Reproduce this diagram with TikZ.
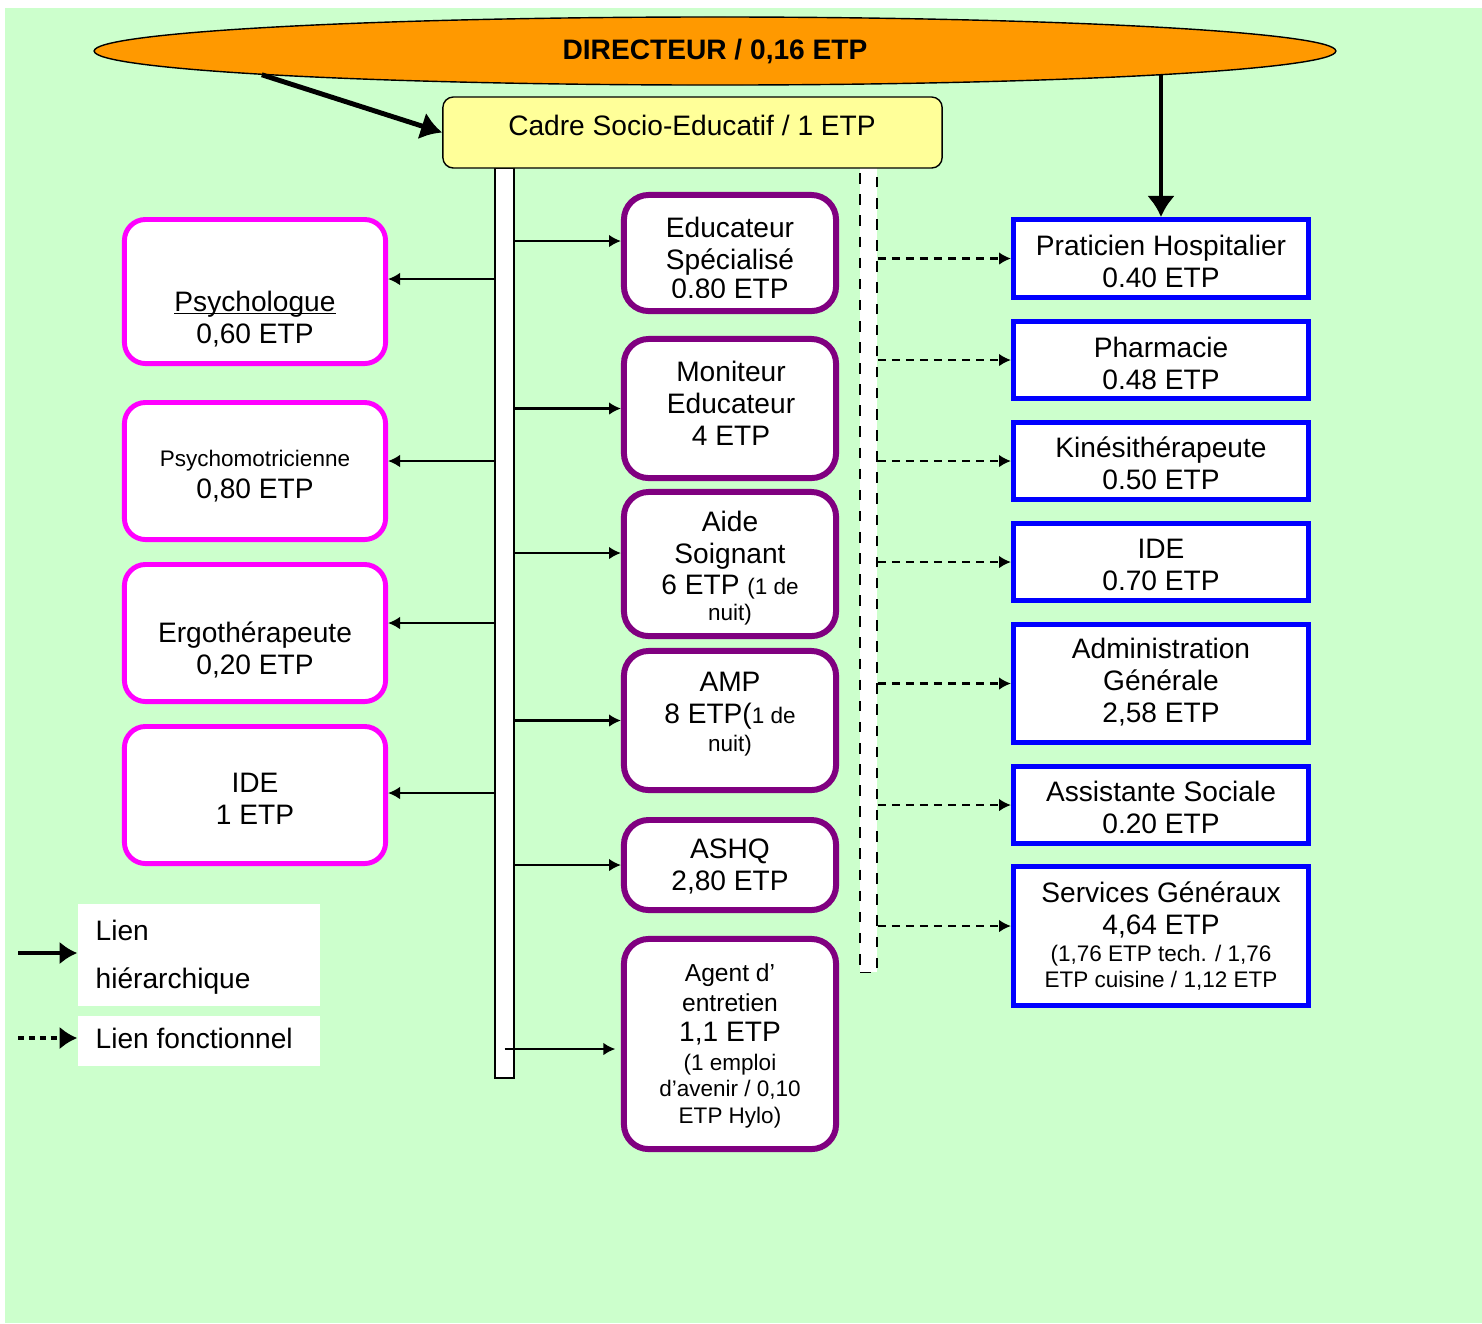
\documentclass[tikz,border=0pt]{standalone}
\usepackage{fontspec}
\setmainfont{Liberation Sans}
\usetikzlibrary{shapes.geometric,arrows.meta}

\definecolor{fondvert}{HTML}{CCFFCC}
\definecolor{orangedir}{HTML}{FF9900}
\definecolor{jaunecadre}{HTML}{FFFF99}
\definecolor{rosepsy}{HTML}{FF00FF}
\definecolor{violetedu}{HTML}{800080}
\definecolor{bleuext}{HTML}{0000FF}

\newcommand{\grand}{\fontsize{8}{9.1}\selectfont}
\newcommand{\moyen}{\fontsize{7}{8.5}\selectfont}
\newcommand{\petit}{\fontsize{6.4}{7.4}\selectfont}
\newsavebox{\soulbox}
\newcommand{\souligne}[1]{\sbox{\soulbox}{#1}\rlap{\rule[-0.8pt]{\wd\soulbox}{0.4pt}}\usebox{\soulbox}}

\begin{document}
\begin{tikzpicture}[x=0.01cm, y=-0.01cm, font=\grand,
		rosebox/.style={draw=rosepsy, line width=1.4pt, fill=white, rounded corners=6pt, minimum width=2.61cm, inner sep=0pt},
		violetbox/.style={draw=violetedu, line width=1.7pt, fill=white, rounded corners=7pt, minimum width=2.12cm, inner sep=0pt},
		bleubox/.style={draw=bleuext, line width=1.4pt, fill=white, minimum width=2.95cm, inner sep=0pt},
		txt/.style={align=center, inner sep=0pt},
		hier/.style={semithick, -{Latex[length=3.4pt, width=3.6pt]}},
		fonc/.style={semithick, dash pattern=on 2.3pt off 1.7pt, -{Latex[length=3.4pt, width=3.6pt]}},
		gros/.style={line width=1.4pt, -{Latex[length=6pt, width=8pt]}}]
		% fond
		\fill[white] (0,0) rectangle (1482,1323);
		\fill[fondvert] (5,8) rectangle (1482,1323);

		% direction
		\node[ellipse, draw, thin, fill=orangedir, minimum width=12.41cm, minimum height=0.68cm, inner sep=0pt, font=\grand\bfseries] (dir) at (715,51) {DIRECTEUR / 0,16 ETP};
		\node[draw, fill=white, semithick, minimum width=0.19cm, minimum height=9.10cm, inner sep=0pt] (hbar) at (504.5,623) {};
		\node[draw, fill=white, dashed, minimum width=0.17cm, minimum height=8.04cm, inner sep=0pt] (dbar) at (868.5,570) {};
		\node[draw, thin, fill=jaunecadre, rounded corners=3pt, minimum width=4.99cm, minimum height=0.71cm, inner sep=0pt] (cadre) at (692.5,132.5) {};
		\node[txt] (cadre-t) at (692,125) {Cadre Socio-Educatif / 1 ETP};

		% colonne gauche
		\node[rosebox, minimum height=1.44cm] (psy) at (255,291.5) {};
		\node[txt] (psy-t) at (255,319) {\souligne{Psychologue}\\0,60 ETP};
		\node[rosebox, minimum height=1.37cm] (psymot) at (255,471) {};
		\node[txt] (psymot-t) at (255,476) {{\petit Psychomotricienne}\\0,80 ETP};
		\node[rosebox, minimum height=1.37cm] (ergo) at (255,633) {};
		\node[txt] (ergo-t) at (255,650) {Ergothérapeute\\0,20 ETP};
		\node[rosebox, minimum height=1.37cm] (ideg) at (255,795) {};
		\node[txt] (ideg-t) at (255,799) {IDE\\1 ETP};

		% colonne centrale
		\node[violetbox, minimum height=1.16cm] (edu) at (730,253) {};
		\begin{scope}
			\clip (621,192) rectangle (839,297);
			\node[txt] (edu-t) at (730,258) {Educateur\\Spécialisé\\[-0.8pt]0.80 ETP};
		\end{scope}
		\node[violetbox, minimum height=1.39cm] (moni) at (730,408.5) {};
		\node[txt] (moni-t) at (731,403) {Moniteur\\Educateur\\4 ETP};
		\node[violetbox, minimum height=1.44cm] (aide) at (730,564) {};
		\node[txt] (aide-t) at (730,568) {Aide\\Soignant\\[-0.4pt]6 ETP {\petit (1 de}\\[-1.8pt]{\petit nuit)}};
		\node[violetbox, minimum height=1.39cm] (amp) at (730,720.5) {};
		\node[txt] (amp-t) at (730,714) {AMP\\8 ETP({\petit 1 de}\\[-1pt]{\petit nuit)}};
		\node[violetbox, minimum height=0.90cm] (ashq) at (730,865) {};
		\node[txt] (ashq-t) at (730,866) {ASHQ\\2,80 ETP};
		\node[violetbox, minimum height=2.10cm] (agent) at (730,1044) {};
		\node[txt] (agent-t) at (730,1046) {{\moyen Agent d’}\\[-0.6pt]{\moyen entretien}\\[-0.6pt]1,1 ETP\\[-0.9pt]{\petit (1 emploi}\\[-1.7pt]{\petit d’avenir / 0,10}\\[-1.5pt]{\petit ETP Hylo)}};

		% colonne droite
		\node[bleubox, minimum height=0.78cm] (prat) at (1161,258.5) {};
		\node[txt] (prat-t) at (1161,261) {Praticien Hospitalier\\0.40 ETP};
		\node[bleubox, minimum height=0.77cm] (phar) at (1161,360) {};
		\node[txt] (phar-t) at (1161,363) {Pharmacie\\0.48 ETP};
		\node[bleubox, minimum height=0.77cm] (kine) at (1161,461) {};
		\node[txt] (kine-t) at (1161,463) {Kinésithérapeute\\0.50 ETP};
		\node[bleubox, minimum height=0.77cm] (ided) at (1161,562) {};
		\node[txt] (ided-t) at (1161,565) {IDE\\0.70 ETP};
		\node[bleubox, minimum height=1.18cm] (admin) at (1161,683.5) {};
		\node[txt] (admin-t) at (1161,682) {Administration\\Générale\\2,58 ETP};
		\node[bleubox, minimum height=0.77cm] (assist) at (1161,805) {};
		\node[txt] (assist-t) at (1161,807) {Assistante Sociale\\0.20 ETP};
		\node[bleubox, minimum height=1.39cm] (serv) at (1161,936) {};
		\node[txt] (serv-t) at (1161,936) {Services Généraux\\4,64 ETP\\[-1.2pt]{\petit (1,76 ETP tech. / 1,76}\\[-1.7pt]{\petit ETP cuisine / 1,12 ETP}};

		% liens de la direction
		\draw[gros] (dir.183.2) -- (cadre.west);
		\draw[gros] (dir.-3.1 -| prat.north) -- (prat.north);

		% liens hierarchiques
		\draw[hier] (hbar.west |- 0,279) -- (psy.east |- 0,279);
		\draw[hier] (hbar.west |- 0,461) -- (psymot.east |- 0,461);
		\draw[hier] (hbar.west |- 0,623) -- (ergo.east |- 0,623);
		\draw[hier] (hbar.west |- 0,793) -- (ideg.east |- 0,793);
		\draw[hier] (hbar.east |- 0,241) -- (edu.west |- 0,241);
		\draw[hier] (hbar.east |- moni.west) -- (moni.west);
		\draw[hier] (hbar.east |- 0,553) -- (aide.west |- 0,553);
		\draw[hier] (hbar.east |- amp.west) -- (amp.west);
		\draw[hier] (hbar.east |- ashq.west) -- (ashq.west);
		\draw[hier] (hbar.center |- 0,1049) -- ([xshift=-1.6pt]agent.west |- 0,1049);

		% liens fonctionnels
		\draw[fonc] (dbar.east |- prat.west) -- (prat.west);
		\draw[fonc] (dbar.east |- phar.west) -- (phar.west);
		\draw[fonc] (dbar.east |- kine.west) -- (kine.west);
		\draw[fonc] (dbar.east |- ided.west) -- (ided.west);
		\draw[fonc] (dbar.east |- admin.west) -- (admin.west);
		\draw[fonc] (dbar.east |- assist.west) -- (assist.west);
		\draw[fonc] (dbar.east |- 0,926) -- (serv.west |- 0,926);

		% legende
		\node[fill=white, minimum width=2.42cm, minimum height=1.02cm, inner sep=0pt] (leg1) at (199,955) {};
		\node[fill=white, minimum width=2.42cm, minimum height=0.50cm, inner sep=0pt] (leg2) at (199,1041) {};
		\node[align=left, anchor=north west, inner sep=0pt] (leg1-t) at (95,919) {Lien\\[4.6pt]hiérarchique};
		\node[anchor=base west, inner sep=0pt] (leg2-t) at (95,1048) {Lien fonctionnel};
		\coordinate (l1) at (18,953);
		\coordinate (l2) at (18,1038);
		\draw[line width=1.2pt, -{Latex[length=5pt, width=6.5pt]}] (l1) -- (leg1.west |- l1);
		\draw[line width=1.2pt, dash pattern=on 1.7pt off 1.4pt, -{Latex[length=5pt, width=6.5pt]}] (l2) -- (leg2.west |- l2);
	\end{tikzpicture}
\end{document}
